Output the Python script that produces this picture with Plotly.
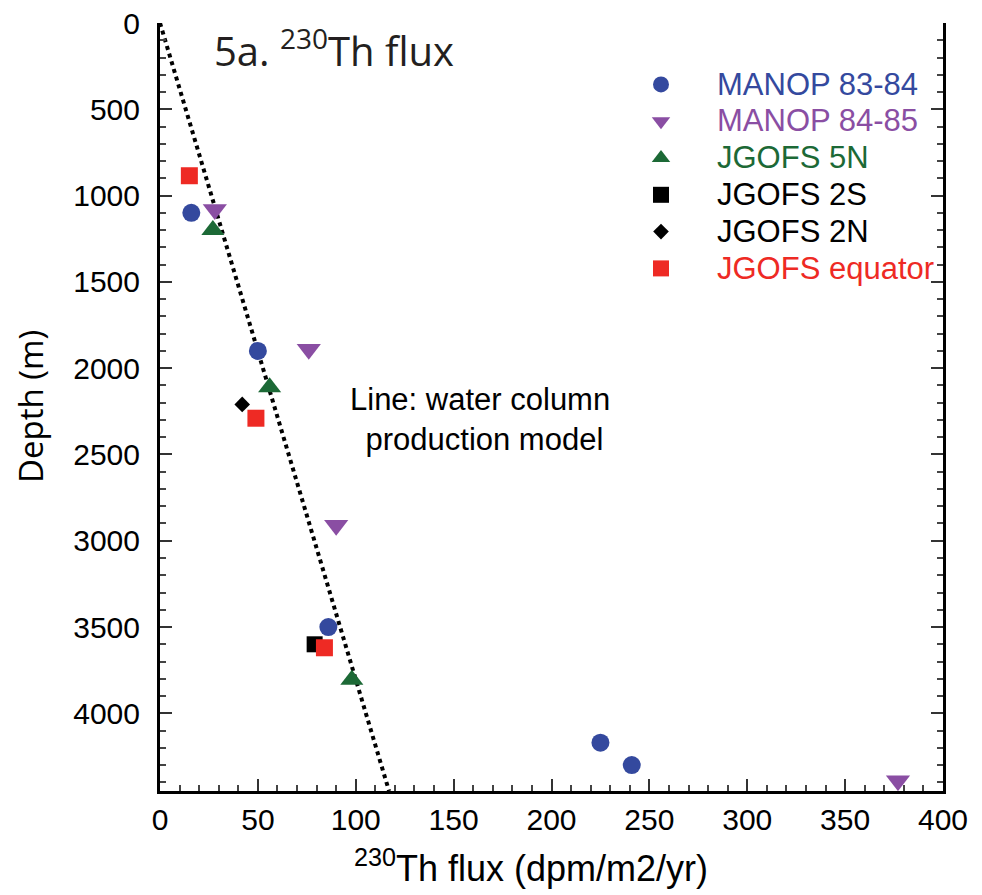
import plotly.graph_objects as go

# ---- data ----
manop8384_flux = [16, 50, 86, 225, 241]
manop8384_depth = [1100, 1900, 3500, 4170, 4300]

manop8485_flux = [28, 76, 90, 377]
manop8485_depth = [1080, 1890, 2910, 4390]

jgofs5n_flux = [27, 56, 98]
jgofs5n_depth = [1200, 2110, 3805]

jgofs2s_flux = [79]
jgofs2s_depth = [3600]

jgofs2n_flux = [42]
jgofs2n_depth = [2210]

jgofseq_flux = [15, 49, 84]
jgofseq_depth = [885, 2290, 3620]

model_flux = [0, 117]
model_depth = [0, 4450]

x_ticks = [0, 50, 100, 150, 200, 250, 300, 350, 400]
y_ticks = [0, 500, 1000, 1500, 2000, 2500, 3000, 3500, 4000]

BLUE = "#34499E"
PURPLE = "#8A4EA3"
GREEN = "#1C6936"
BLACK = "#000000"
RED = "#EE2A24"

LEG_FS = 31

# plot-area geometry in page pixels (reference)
PL, PR, PT, PB = 160, 943, 23, 791
PW, PH = PR - PL, PB - PT
OFF = 8  # default body margin of the html page


def px2paper_x(px):
    return (px - PL) / PW


def px2paper_y(py):
    return (PB - py) / PH


def lname(text, color):
    return f'<span style="color:{color};font-size:{LEG_FS}px">{text}</span>'


fig = go.Figure()

fig.add_trace(go.Scatter(
    x=model_flux, y=model_depth, mode="lines",
    line=dict(color="black", width=4, dash="4px,4px"),
    showlegend=False, hoverinfo="skip"))

series = [
    ("MANOP 83-84", manop8384_flux, manop8384_depth, "circle", BLUE, 18),
    ("MANOP 84-85", manop8485_flux, manop8485_depth, "triangle-down", PURPLE, 21),
    ("JGOFS 5N", jgofs5n_flux, jgofs5n_depth, "triangle-up", GREEN, 20),
    ("JGOFS 2S", jgofs2s_flux, jgofs2s_depth, "square", BLACK, 16),
    ("JGOFS 2N", jgofs2n_flux, jgofs2n_depth, "diamond", BLACK, 12),
    ("JGOFS equator", jgofseq_flux, jgofseq_depth, "square", RED, 17),
]
for name, xs, ys, sym, col, sz in series:
    fig.add_trace(go.Scatter(
        x=xs, y=ys, mode="markers", name=lname(name, col),
        marker=dict(symbol=sym, color=col, size=sz, line=dict(width=0))))

axis_common = dict(
    showgrid=False, zeroline=False,
    showline=True, linecolor="black", linewidth=3,
    ticks="inside", ticklen=12, tickwidth=2, tickcolor="#333",
    tickfont=dict(family="Liberation Sans, Arial", size=30, color="black"),
    ticklabeloverflow="allow",
)

fig.update_xaxes(
    range=[0, 400], tickvals=x_ticks, ticktext=[str(v) for v in x_ticks],
    minor=dict(ticks="inside", ticklen=6, tickwidth=2, tickcolor="#444", dtick=10, showgrid=False),
    ticklabelstandoff=0,
    **axis_common)
fig.update_yaxes(
    range=[4450, 0], tickvals=y_ticks, ticktext=[str(v) for v in y_ticks],
    mirror="ticks",
    minor=dict(ticks="inside", ticklen=6, tickwidth=2, tickcolor="#444", dtick=100, showgrid=False),
    ticklabelstandoff=11,
    **axis_common)

fig.add_annotation(
    x=px2paper_x(212), y=px2paper_y(49), xref="paper", yref="paper",
    xanchor="left", yanchor="middle",
    text="5a. <sup>230</sup>Th flux", showarrow=False,
    font=dict(family="Open Sans", size=40, color="#231F20"))

fig.add_annotation(
    x=px2paper_x(480), y=px2paper_y(420), xref="paper", yref="paper",
    xanchor="center", yanchor="middle",
    text="Line: water column<br> production model", showarrow=False,
    font=dict(family="Liberation Sans, Arial", size=31, color="black"))

fig.add_annotation(
    x=px2paper_x(531), y=px2paper_y(866), xref="paper", yref="paper",
    xanchor="center", yanchor="middle",
    text="<sup>230</sup>Th flux (dpm/m2/yr)", showarrow=False,
    font=dict(family="Liberation Sans, Arial", size=36, color="black"))

fig.add_annotation(
    x=px2paper_x(30), y=px2paper_y(407), xref="paper", yref="paper",
    xanchor="center", yanchor="middle", textangle=-90,
    text="Depth (m)", showarrow=False,
    font=dict(family="Open Sans", size=33, color="black"))

fig.update_layout(
    width=982 - OFF, height=895 - OFF,
    margin=dict(l=PL - OFF, r=982 - PR, t=PT - OFF, b=895 - PB, autoexpand=False),
    plot_bgcolor="white", paper_bgcolor="white",
    showlegend=True,
    legend=dict(
        x=px2paper_x(605), y=px2paper_y(61), xanchor="left", yanchor="top",
        bgcolor="rgba(0,0,0,0)", borderwidth=0,
        font=dict(family="Liberation Sans, Arial", size=26, color="black"),
        itemwidth=102, tracegroupgap=0),
)

fig.write_html("out.html")
